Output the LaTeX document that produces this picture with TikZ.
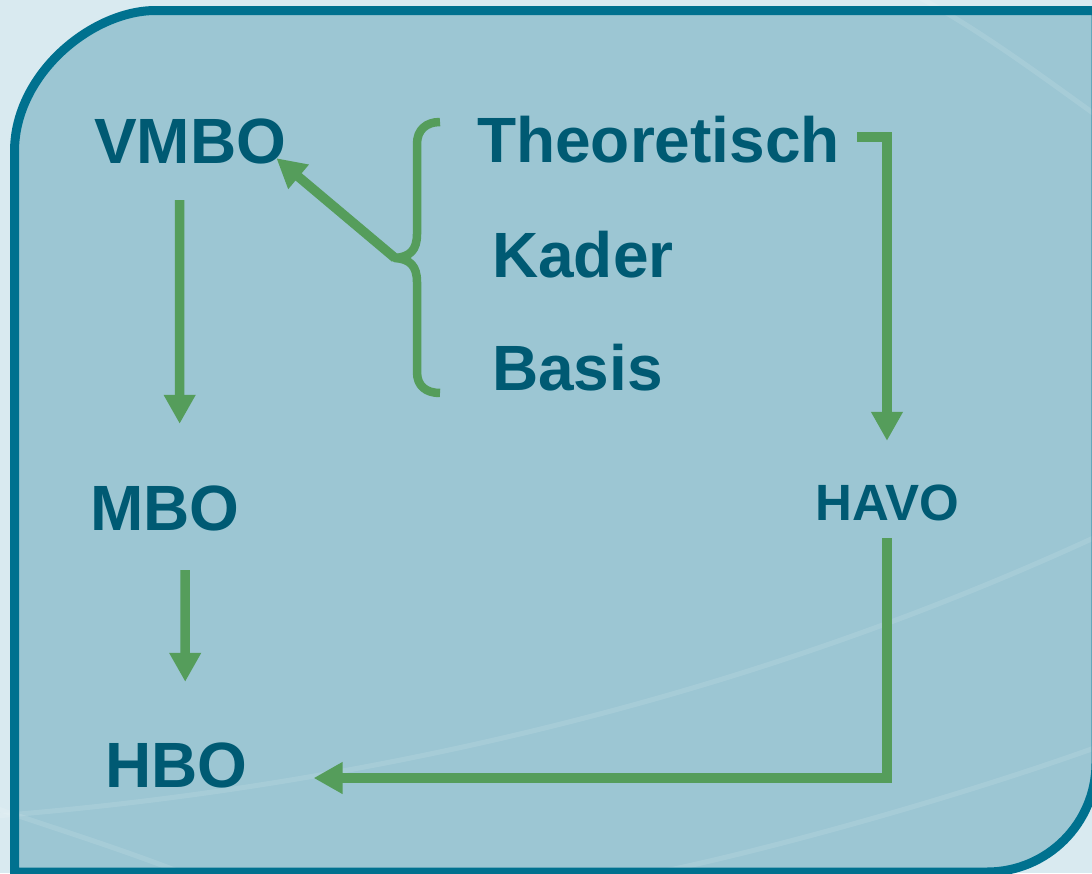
\documentclass[tikz,border=0pt]{standalone}
\usepackage{fontspec}
\setmainfont{Liberation Sans}
\usetikzlibrary{arrows.meta,calc}
\definecolor{outerbg}{RGB}{217,234,240}
\definecolor{panelbg}{RGB}{156,198,211}
\definecolor{panelborder}{RGB}{0,113,143}
\definecolor{txt}{RGB}{0,90,115}
\definecolor{grn}{RGB}{85,157,91}
\begin{document}
\begin{tikzpicture}[x=1pt,y=-1pt,
  lbl/.style={font=\bfseries\fontsize{64}{64}\selectfont, text=txt, inner sep=0pt,
    text height=46pt, text depth=0pt, anchor=base west},
  lblsmall/.style={lbl, font=\bfseries\fontsize{51}{51}\selectfont, text height=37pt},
  arr/.style={draw=grn, line width=9.5pt, -{Triangle[length=29pt,width=30pt]}},
  bracestyle/.style={draw=grn, line width=8.5pt, line join=round},
  swoosh/.style={draw=white, opacity=0.11, line width=5pt}]
\useasboundingbox (0,0) rectangle (1092,873);
% outer background
\fill[outerbg] (0,0) rectangle (1092,873);
% panel fill
\fill[panelbg] (14.5,880) -- (14.5,151.5) .. controls (14.5,73.6) and (92.4,10.5) .. (155.5,10.5)
  -- (1096,10.5) -- (1096,763) .. controls (1096,823.2) and (1047.2,872) .. (987,872) -- (14.5,872) -- cycle;
% decorative swooshes
\draw[swoosh] (915,-5) .. controls (980,30) and (1040,75) .. (1100,118);
\draw[swoosh] (-5,816) .. controls (300,792) and (700,720) .. (1100,535);
\draw[swoosh] (640,876) .. controls (750,855) and (950,800) .. (1100,746);
\draw[swoosh] (-5,808) .. controls (60,830) and (130,852) .. (190,876);
% panel border
\draw[panelborder, line width=9pt] (14.5,880) -- (14.5,151.5) .. controls (14.5,73.6) and (92.4,10.5) .. (155.5,10.5)
  -- (1096,10.5) -- (1096,763) .. controls (1096,823.2) and (1047.2,872) .. (987,872) -- (14.5,872) -- cycle;
% labels
\node[lbl] (vmbo) at (94,163) {VMBO};
\node[lbl] (theo) at (477,162) {Theoretisch};
\node[lbl] (kader) at (492,277) {Kader};
\node[lbl] (basis) at (492,390) {Basis};
\node[lbl] (mbo) at (90,530) {MBO};
\node[lbl] (hbo) at (105,787) {HBO};
\node[lblsmall] (havo) at (815,520) {HAVO};
% brace
\coordinate (cusp) at (395,258);
\draw[bracestyle] (440,122) .. controls (426,122) and (417,130) .. (417,144) -- (417,234)
  .. controls (417,250) and (410,257) .. (cusp)
  .. controls (410,259) and (417,266) .. (417,282) -- (417,372)
  .. controls (417,386) and (426,393) .. (440,393);
% arrows
\draw[arr] (cusp) -- ($(vmbo.south east)+(-10,-5)$);
\draw[arr] ($(vmbo.south)+(-10.5,37)$) -- ($(mbo.north)+(14.8,-60)$);
\draw[arr] ($(mbo.south)+(20.3,40)$) -- ($(hbo.north)+(8.9,-59)$);
\draw[arr] ($(theo.east)+(17,-2)$) -| ($(havo.north)+(0,-42)$);
\draw[arr] ($(havo.south)+(0,18)$) |- ($(hbo.east)+(66,14)$);
\end{tikzpicture}
\end{document}
